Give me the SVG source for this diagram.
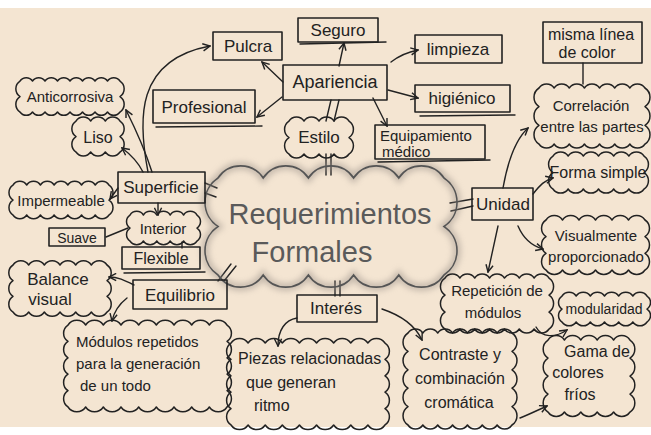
<svg xmlns="http://www.w3.org/2000/svg" width="651" height="435" viewBox="0 0 651 435">
<defs>
<style>
.box{fill:none;stroke:#222;stroke-width:1.6;stroke-linejoin:round}
.cl{fill:none;stroke:#222;stroke-width:1.5;stroke-linejoin:round}
.c{fill:none;stroke:#222;stroke-width:1.4;stroke-linecap:round}
.t{font-family:"Liberation Sans",Arial,sans-serif;fill:#222;font-size:16px}
.m{text-anchor:middle}
</style>
<marker id="ah" viewBox="0 0 10 10" refX="9" refY="5" markerWidth="9" markerHeight="9" markerUnits="userSpaceOnUse" orient="auto"><path d="M1,1 L9,5 L1,9" fill="none" stroke="#222" stroke-width="1.6"/></marker>
<filter id="blur" x="-10%" y="-10%" width="120%" height="120%"><feGaussianBlur stdDeviation="3"/></filter>
</defs>
<rect width="651" height="435" fill="#ffffff"/>
<rect x="0" y="8" width="651" height="419" fill="#f4e5d2"/>

<g id="connectors">
<path class="c" d="M148,172 C138,120 135,60 210,46" marker-end="url(#ah)"/>
<path class="c" d="M152,172 C145,150 135,128 126,110" marker-end="url(#ah)"/>
<path class="c" d="M143,172 C138,162 130,154 122,148" marker-end="url(#ah)"/>
<path class="c" d="M118,188 L110,199" marker-end="url(#ah)"/>
<path class="c" d="M205,183 L217,188 M205,193 L216,197"/>
<path class="c" d="M158,203 L158,215" marker-end="url(#ah)"/>
<path class="c" d="M128,228 L106,237"/>
<path class="c" d="M182,242 L182,248"/>
<path class="c" d="M231,264 L218,281 M236,266 L224,281"/>
<path class="c" d="M134,285 C124,280 118,277 109,277" marker-end="url(#ah)"/>
<path class="c" d="M127,298 C118,305 114,312 112,321" marker-end="url(#ah)"/>
<path class="c" d="M283,82 L262,62" marker-end="url(#ah)"/>
<path class="c" d="M339,66 L344,43" marker-end="url(#ah)"/>
<path class="c" d="M282,97 L257,117" marker-end="url(#ah)"/>
<path class="c" d="M391,62 C400,55 408,52 418,50" marker-end="url(#ah)"/>
<path class="c" d="M388,90 L418,98" marker-end="url(#ah)"/>
<path class="c" d="M373,98 L387,126" marker-end="url(#ah)"/>
<path class="c" d="M331,100 L326,121 M339,100 L334,121"/>
<path class="c" d="M326,154 L326,175 M331,154 L331,175"/>
<path class="c" d="M335,281 L335,296 M340,281 L340,296"/>
<path class="c" d="M297,318 C285,320 278,330 278,346" marker-end="url(#ah)"/>
<path class="c" d="M382,309 C400,315 415,325 422,340" marker-end="url(#ah)"/>
<path class="c" d="M450,203 L473,199 M451,211 L473,206"/>
<path class="c" d="M503,188 C508,160 515,140 528,128" marker-end="url(#ah)"/>
<path class="c" d="M533,194 C540,185 545,180 553,178" marker-end="url(#ah)"/>
<path class="c" d="M518,226 C524,240 532,246 543,249" marker-end="url(#ah)"/>
<path class="c" d="M498,226 L488,272" marker-end="url(#ah)"/>
<path class="c" d="M536,327 C542,338 555,338 567,330" marker-end="url(#ah)"/>
<path class="c" d="M520,418 C530,414 538,410 547,406" marker-end="url(#ah)"/>
<path class="c" d="M583,63 L583,84"/>
</g>

<g id="central">
<path d="M218,178 a27.1 27.1 0 0 1 45.2 0 a27.1 27.1 0 0 1 45.2 0 a27.1 27.1 0 0 1 45.2 0 a27.1 27.1 0 0 1 45.2 0 a27.1 27.1 0 0 1 45.2 0 a29.1 29.1 0 0 1 0 48.5 a29.1 29.1 0 0 1 0 48.5 a27.1 27.1 0 0 1 -45.2 0 a27.1 27.1 0 0 1 -45.2 0 a27.1 27.1 0 0 1 -45.2 0 a27.1 27.1 0 0 1 -45.2 0 a27.1 27.1 0 0 1 -45.2 0 a29.1 29.1 0 0 1 0 -48.5 a29.1 29.1 0 0 1 0 -48.5 z" fill="none" stroke="#9a9088" stroke-width="7" opacity="0.55" filter="url(#blur)"/>
<path d="M218,178 a27.1 27.1 0 0 1 45.2 0 a27.1 27.1 0 0 1 45.2 0 a27.1 27.1 0 0 1 45.2 0 a27.1 27.1 0 0 1 45.2 0 a27.1 27.1 0 0 1 45.2 0 a29.1 29.1 0 0 1 0 48.5 a29.1 29.1 0 0 1 0 48.5 a27.1 27.1 0 0 1 -45.2 0 a27.1 27.1 0 0 1 -45.2 0 a27.1 27.1 0 0 1 -45.2 0 a27.1 27.1 0 0 1 -45.2 0 a27.1 27.1 0 0 1 -45.2 0 a29.1 29.1 0 0 1 0 -48.5 a29.1 29.1 0 0 1 0 -48.5 z" fill="none" stroke="#555" stroke-width="1.6"/>
<text class="t m" x="330" y="224" style="font-size:29px;fill:#5a5a5a">Requerimientos</text>
<text class="t m" x="312" y="262" style="font-size:29px;fill:#5a5a5a">Formales</text>
</g>

<g id="apariencia"><rect class="box" x="283" y="65" width="104" height="35"/><text class="t m" x="335" y="88" style="font-size:18px">Apariencia</text></g>
<g id="seguro"><rect class="box" x="298" y="18" width="80" height="24"/><path class="c" d="M300,44 L386,42"/><text class="t m" x="338" y="36" style="font-size:17px">Seguro</text></g>
<g id="pulcra"><rect class="box" x="213" y="32" width="69" height="28"/><text class="t m" x="248" y="52" style="font-size:17px">Pulcra</text></g>
<g id="profesional"><rect class="box" x="153" y="90" width="102" height="33"/><path class="c" d="M156,127 L262,126"/><text class="t m" x="204" y="113" style="font-size:17px">Profesional</text></g>
<g id="limpieza"><rect class="box" x="415" y="35" width="87" height="28"/><text class="t m" x="458" y="55" style="font-size:17px">limpieza</text></g>
<g id="higienico"><rect class="box" x="415" y="85" width="95" height="27"/><path class="c" d="M420,116 L515,115"/><text class="t m" x="462" y="104" style="font-size:17px">higiénico</text></g>
<g id="equipamiento"><rect class="box" x="375" y="125" width="110" height="34"/><path class="c" d="M378,162 L490,160"/><text class="t" x="380" y="141" style="font-size:15px">Equipamiento</text><text class="t" x="382" y="157" style="font-size:15px">médico</text></g>
<g id="estilo"><path class="cl" d="M289,121 a9 9 0 0 1 15 0 a9 9 0 0 1 15 0 a9 9 0 0 1 15 0 a9 9 0 0 1 15 0 a9.9 9.9 0 0 1 0 16.5 a9.9 9.9 0 0 1 0 16.5 a9 9 0 0 1 -15 0 a9 9 0 0 1 -15 0 a9 9 0 0 1 -15 0 a9 9 0 0 1 -15 0 a9.9 9.9 0 0 1 0 -16.5 a9.9 9.9 0 0 1 0 -16.5 z"/><text class="t m" x="319" y="143" style="font-size:17px">Estilo</text></g>

<g id="anticorrosiva"><path class="cl" d="M20,81 a7.5 7.5 0 0 1 12.5 0 a7.5 7.5 0 0 1 12.5 0 a7.5 7.5 0 0 1 12.5 0 a7.5 7.5 0 0 1 12.5 0 a7.5 7.5 0 0 1 12.5 0 a7.5 7.5 0 0 1 12.5 0 a7.5 7.5 0 0 1 12.5 0 a7.5 7.5 0 0 1 12.5 0 a9.3 9.3 0 0 1 0 15.5 a9.3 9.3 0 0 1 0 15.5 a7.5 7.5 0 0 1 -12.5 0 a7.5 7.5 0 0 1 -12.5 0 a7.5 7.5 0 0 1 -12.5 0 a7.5 7.5 0 0 1 -12.5 0 a7.5 7.5 0 0 1 -12.5 0 a7.5 7.5 0 0 1 -12.5 0 a7.5 7.5 0 0 1 -12.5 0 a7.5 7.5 0 0 1 -12.5 0 a9.3 9.3 0 0 1 0 -15.5 a9.3 9.3 0 0 1 0 -15.5 z"/><text class="t m" x="70" y="102" style="font-size:15px">Anticorrosiva</text></g>
<g id="liso"><path class="cl" d="M76,121 a8.8 8.8 0 0 1 14.67 0 a8.8 8.8 0 0 1 14.67 0 a8.8 8.8 0 0 1 14.67 0 a9.3 9.3 0 0 1 0 15.5 a9.3 9.3 0 0 1 0 15.5 a8.8 8.8 0 0 1 -14.67 0 a8.8 8.8 0 0 1 -14.67 0 a8.8 8.8 0 0 1 -14.67 0 a9.3 9.3 0 0 1 0 -15.5 a9.3 9.3 0 0 1 0 -15.5 z"/><text class="t m" x="98" y="143">Liso</text></g>
<g id="superficie"><rect class="box" x="118" y="172" width="87" height="31"/><text class="t m" x="161" y="193" style="font-size:17px">Superficie</text></g>
<g id="impermeable"><path class="cl" d="M13,185 a8.2 8.2 0 0 1 13.71 0 a8.2 8.2 0 0 1 13.71 0 a8.2 8.2 0 0 1 13.71 0 a8.2 8.2 0 0 1 13.71 0 a8.2 8.2 0 0 1 13.71 0 a8.2 8.2 0 0 1 13.71 0 a8.2 8.2 0 0 1 13.71 0 a9 9 0 0 1 0 15 a9 9 0 0 1 0 15 a8.2 8.2 0 0 1 -13.71 0 a8.2 8.2 0 0 1 -13.71 0 a8.2 8.2 0 0 1 -13.71 0 a8.2 8.2 0 0 1 -13.71 0 a8.2 8.2 0 0 1 -13.71 0 a8.2 8.2 0 0 1 -13.71 0 a8.2 8.2 0 0 1 -13.71 0 a9 9 0 0 1 0 -15 a9 9 0 0 1 0 -15 z"/><text class="t m" x="61" y="206" style="font-size:15px">Impermeable</text></g>
<g id="interior"><path class="cl" d="M130,215 a8 8 0 0 1 13.4 0 a8 8 0 0 1 13.4 0 a8 8 0 0 1 13.4 0 a8 8 0 0 1 13.4 0 a8 8 0 0 1 13.4 0 a7.8 7.8 0 0 1 0 13 a7.8 7.8 0 0 1 0 13 a8 8 0 0 1 -13.4 0 a8 8 0 0 1 -13.4 0 a8 8 0 0 1 -13.4 0 a8 8 0 0 1 -13.4 0 a8 8 0 0 1 -13.4 0 a7.8 7.8 0 0 1 0 -13 a7.8 7.8 0 0 1 0 -13 z"/><text class="t m" x="163" y="234" style="font-size:15px">Interior</text></g>
<g id="suave"><rect class="box" x="49" y="228" width="56" height="18"/><text class="t m" x="77" y="243" style="font-size:14px">Suave</text></g>
<g id="flexible"><rect class="box" x="122" y="247" width="78" height="22"/><path class="c" d="M124,273 L205,272"/><text class="t m" x="161" y="264">Flexible</text></g>
<g id="balance"><path class="cl" d="M13,265 a9.4 9.4 0 0 1 15.67 0 a9.4 9.4 0 0 1 15.67 0 a9.4 9.4 0 0 1 15.67 0 a9.4 9.4 0 0 1 15.67 0 a9.4 9.4 0 0 1 15.67 0 a9.4 9.4 0 0 1 15.67 0 a9.4 9.4 0 0 1 0 15.67 a9.4 9.4 0 0 1 0 15.67 a9.4 9.4 0 0 1 0 15.67 a9.4 9.4 0 0 1 -15.67 0 a9.4 9.4 0 0 1 -15.67 0 a9.4 9.4 0 0 1 -15.67 0 a9.4 9.4 0 0 1 -15.67 0 a9.4 9.4 0 0 1 -15.67 0 a9.4 9.4 0 0 1 -15.67 0 a9.4 9.4 0 0 1 0 -15.67 a9.4 9.4 0 0 1 0 -15.67 a9.4 9.4 0 0 1 0 -15.67 z"/><text class="t m" x="58" y="285" style="font-size:17px">Balance</text><text class="t m" x="50" y="305" style="font-size:17px">visual</text></g>
<g id="equilibrio"><rect class="box" x="133" y="280" width="94" height="29"/><text class="t m" x="180" y="301" style="font-size:17px">Equilibrio</text></g>
<g id="modulos"><path class="cl" d="M68,325 a10.6 10.6 0 0 1 17.67 0 a10.6 10.6 0 0 1 17.67 0 a10.6 10.6 0 0 1 17.67 0 a10.6 10.6 0 0 1 17.67 0 a10.6 10.6 0 0 1 17.67 0 a10.6 10.6 0 0 1 17.67 0 a10.6 10.6 0 0 1 17.67 0 a10.6 10.6 0 0 1 17.67 0 a10.6 10.6 0 0 1 17.67 0 a9.84 9.84 0 0 1 0 16.4 a9.84 9.84 0 0 1 0 16.4 a9.84 9.84 0 0 1 0 16.4 a9.84 9.84 0 0 1 0 16.4 a9.84 9.84 0 0 1 0 16.4 a10.6 10.6 0 0 1 -17.67 0 a10.6 10.6 0 0 1 -17.67 0 a10.6 10.6 0 0 1 -17.67 0 a10.6 10.6 0 0 1 -17.67 0 a10.6 10.6 0 0 1 -17.67 0 a10.6 10.6 0 0 1 -17.67 0 a10.6 10.6 0 0 1 -17.67 0 a10.6 10.6 0 0 1 -17.67 0 a10.6 10.6 0 0 1 -17.67 0 a9.84 9.84 0 0 1 0 -16.4 a9.84 9.84 0 0 1 0 -16.4 a9.84 9.84 0 0 1 0 -16.4 a9.84 9.84 0 0 1 0 -16.4 a9.84 9.84 0 0 1 0 -16.4 z"/><text class="t" x="76" y="347" style="font-size:15px">Módulos repetidos</text><text class="t" x="76" y="369" style="font-size:15px">para la generación</text><text class="t" x="80" y="391" style="font-size:15px">de un todo</text></g>
<g id="interes"><rect class="box" x="297" y="295" width="80" height="27"/><text class="t m" x="336" y="314" style="font-size:17px">Interés</text></g>
<g id="piezas"><path class="cl" d="M231,343 a10.3 10.3 0 0 1 17.11 0 a10.3 10.3 0 0 1 17.11 0 a10.3 10.3 0 0 1 17.11 0 a10.3 10.3 0 0 1 17.11 0 a10.3 10.3 0 0 1 17.11 0 a10.3 10.3 0 0 1 17.11 0 a10.3 10.3 0 0 1 17.11 0 a10.3 10.3 0 0 1 17.11 0 a10.3 10.3 0 0 1 17.11 0 a9.84 9.84 0 0 1 0 16.4 a9.84 9.84 0 0 1 0 16.4 a9.84 9.84 0 0 1 0 16.4 a9.84 9.84 0 0 1 0 16.4 a9.84 9.84 0 0 1 0 16.4 a10.3 10.3 0 0 1 -17.11 0 a10.3 10.3 0 0 1 -17.11 0 a10.3 10.3 0 0 1 -17.11 0 a10.3 10.3 0 0 1 -17.11 0 a10.3 10.3 0 0 1 -17.11 0 a10.3 10.3 0 0 1 -17.11 0 a10.3 10.3 0 0 1 -17.11 0 a10.3 10.3 0 0 1 -17.11 0 a10.3 10.3 0 0 1 -17.11 0 a9.84 9.84 0 0 1 0 -16.4 a9.84 9.84 0 0 1 0 -16.4 a9.84 9.84 0 0 1 0 -16.4 a9.84 9.84 0 0 1 0 -16.4 a9.84 9.84 0 0 1 0 -16.4 z"/><text class="t" x="238" y="364">Piezas relacionadas</text><text class="t" x="246" y="388">que generan</text><text class="t" x="254" y="411">ritmo</text></g>
<g id="contraste"><path class="cl" d="M408,333 a8.9 8.9 0 0 1 14.86 0 a8.9 8.9 0 0 1 14.86 0 a8.9 8.9 0 0 1 14.86 0 a8.9 8.9 0 0 1 14.86 0 a8.9 8.9 0 0 1 14.86 0 a8.9 8.9 0 0 1 14.86 0 a8.9 8.9 0 0 1 14.86 0 a11 11 0 0 1 0 18.4 a11 11 0 0 1 0 18.4 a11 11 0 0 1 0 18.4 a11 11 0 0 1 0 18.4 a11 11 0 0 1 0 18.4 a8.9 8.9 0 0 1 -14.86 0 a8.9 8.9 0 0 1 -14.86 0 a8.9 8.9 0 0 1 -14.86 0 a8.9 8.9 0 0 1 -14.86 0 a8.9 8.9 0 0 1 -14.86 0 a8.9 8.9 0 0 1 -14.86 0 a8.9 8.9 0 0 1 -14.86 0 a11 11 0 0 1 0 -18.4 a11 11 0 0 1 0 -18.4 a11 11 0 0 1 0 -18.4 a11 11 0 0 1 0 -18.4 a11 11 0 0 1 0 -18.4 z"/><text class="t m" x="460" y="360">Contraste y</text><text class="t m" x="460" y="384">combinación</text><text class="t m" x="459" y="408">cromática</text></g>
<g id="unidad"><rect class="box" x="472" y="188" width="61" height="32"/><text class="t m" x="503" y="210" style="font-size:17px">Unidad</text></g>
<g id="misma"><rect class="box" x="543" y="22" width="99" height="41"/><text class="t m" x="591" y="40">misma línea</text><text class="t m" x="587" y="58">de color</text></g>
<g id="correlacion"><path class="cl" d="M539,88 a9.1 9.1 0 0 1 15.14 0 a9.1 9.1 0 0 1 15.14 0 a9.1 9.1 0 0 1 15.14 0 a9.1 9.1 0 0 1 15.14 0 a9.1 9.1 0 0 1 15.14 0 a9.1 9.1 0 0 1 15.14 0 a9.1 9.1 0 0 1 15.14 0 a11.2 11.2 0 0 1 0 18.67 a11.2 11.2 0 0 1 0 18.67 a11.2 11.2 0 0 1 0 18.67 a9.1 9.1 0 0 1 -15.14 0 a9.1 9.1 0 0 1 -15.14 0 a9.1 9.1 0 0 1 -15.14 0 a9.1 9.1 0 0 1 -15.14 0 a9.1 9.1 0 0 1 -15.14 0 a9.1 9.1 0 0 1 -15.14 0 a9.1 9.1 0 0 1 -15.14 0 a11.2 11.2 0 0 1 0 -18.67 a11.2 11.2 0 0 1 0 -18.67 a11.2 11.2 0 0 1 0 -18.67 z"/><text class="t m" x="591" y="111" style="font-size:15px">Correlación</text><text class="t m" x="592" y="132" style="font-size:15px">entre las partes</text></g>
<g id="forma"><path class="cl" d="M553,156 a9.1 9.1 0 0 1 15.17 0 a9.1 9.1 0 0 1 15.17 0 a9.1 9.1 0 0 1 15.17 0 a9.1 9.1 0 0 1 15.17 0 a9.1 9.1 0 0 1 15.17 0 a9.1 9.1 0 0 1 15.17 0 a9.9 9.9 0 0 1 0 16.5 a9.9 9.9 0 0 1 0 16.5 a9.1 9.1 0 0 1 -15.17 0 a9.1 9.1 0 0 1 -15.17 0 a9.1 9.1 0 0 1 -15.17 0 a9.1 9.1 0 0 1 -15.17 0 a9.1 9.1 0 0 1 -15.17 0 a9.1 9.1 0 0 1 -15.17 0 a9.9 9.9 0 0 1 0 -16.5 a9.9 9.9 0 0 1 0 -16.5 z"/><text class="t m" x="598" y="178">Forma simple</text></g>
<g id="visualmente"><path class="cl" d="M546,220 a9.9 9.9 0 0 1 16.5 0 a9.9 9.9 0 0 1 16.5 0 a9.9 9.9 0 0 1 16.5 0 a9.9 9.9 0 0 1 16.5 0 a9.9 9.9 0 0 1 16.5 0 a9.9 9.9 0 0 1 16.5 0 a10 10 0 0 1 0 16.67 a10 10 0 0 1 0 16.67 a10 10 0 0 1 0 16.67 a9.9 9.9 0 0 1 -16.5 0 a9.9 9.9 0 0 1 -16.5 0 a9.9 9.9 0 0 1 -16.5 0 a9.9 9.9 0 0 1 -16.5 0 a9.9 9.9 0 0 1 -16.5 0 a9.9 9.9 0 0 1 -16.5 0 a10 10 0 0 1 0 -16.67 a10 10 0 0 1 0 -16.67 a10 10 0 0 1 0 -16.67 z"/><text class="t m" x="596" y="241" style="font-size:15px">Visualmente</text><text class="t m" x="596" y="262" style="font-size:15px">proporcionado</text></g>
<g id="repeticion"><path class="cl" d="M445,278 a8.9 8.9 0 0 1 14.86 0 a8.9 8.9 0 0 1 14.86 0 a8.9 8.9 0 0 1 14.86 0 a8.9 8.9 0 0 1 14.86 0 a8.9 8.9 0 0 1 14.86 0 a8.9 8.9 0 0 1 14.86 0 a8.9 8.9 0 0 1 14.86 0 a10.2 10.2 0 0 1 0 17 a10.2 10.2 0 0 1 0 17 a10.2 10.2 0 0 1 0 17 a8.9 8.9 0 0 1 -14.86 0 a8.9 8.9 0 0 1 -14.86 0 a8.9 8.9 0 0 1 -14.86 0 a8.9 8.9 0 0 1 -14.86 0 a8.9 8.9 0 0 1 -14.86 0 a8.9 8.9 0 0 1 -14.86 0 a8.9 8.9 0 0 1 -14.86 0 a10.2 10.2 0 0 1 0 -17 a10.2 10.2 0 0 1 0 -17 a10.2 10.2 0 0 1 0 -17 z"/><text class="t m" x="497" y="296" style="font-size:15px">Repetición de</text><text class="t m" x="493" y="318" style="font-size:15px">módulos</text></g>
<g id="modularidad"><path class="cl" d="M562,296 a8.5 8.5 0 0 1 14.17 0 a8.5 8.5 0 0 1 14.17 0 a8.5 8.5 0 0 1 14.17 0 a8.5 8.5 0 0 1 14.17 0 a8.5 8.5 0 0 1 14.17 0 a8.5 8.5 0 0 1 14.17 0 a7.8 7.8 0 0 1 0 13 a7.8 7.8 0 0 1 0 13 a8.5 8.5 0 0 1 -14.17 0 a8.5 8.5 0 0 1 -14.17 0 a8.5 8.5 0 0 1 -14.17 0 a8.5 8.5 0 0 1 -14.17 0 a8.5 8.5 0 0 1 -14.17 0 a8.5 8.5 0 0 1 -14.17 0 a7.8 7.8 0 0 1 0 -13 a7.8 7.8 0 0 1 0 -13 z"/><text class="t m" x="604" y="314" style="font-size:14px">modularidad</text></g>
<g id="gama"><path class="cl" d="M548,340 a9.84 9.84 0 0 1 16.4 0 a9.84 9.84 0 0 1 16.4 0 a9.84 9.84 0 0 1 16.4 0 a9.84 9.84 0 0 1 16.4 0 a9.84 9.84 0 0 1 16.4 0 a10.8 10.8 0 0 1 0 18 a10.8 10.8 0 0 1 0 18 a10.8 10.8 0 0 1 0 18 a10.8 10.8 0 0 1 0 18 a9.84 9.84 0 0 1 -16.4 0 a9.84 9.84 0 0 1 -16.4 0 a9.84 9.84 0 0 1 -16.4 0 a9.84 9.84 0 0 1 -16.4 0 a9.84 9.84 0 0 1 -16.4 0 a10.8 10.8 0 0 1 0 -18 a10.8 10.8 0 0 1 0 -18 a10.8 10.8 0 0 1 0 -18 a10.8 10.8 0 0 1 0 -18 z"/><text class="t m" x="597" y="357">Gama de</text><text class="t m" x="578" y="378">colores</text><text class="t m" x="580" y="400">fríos</text></g>
</svg>
